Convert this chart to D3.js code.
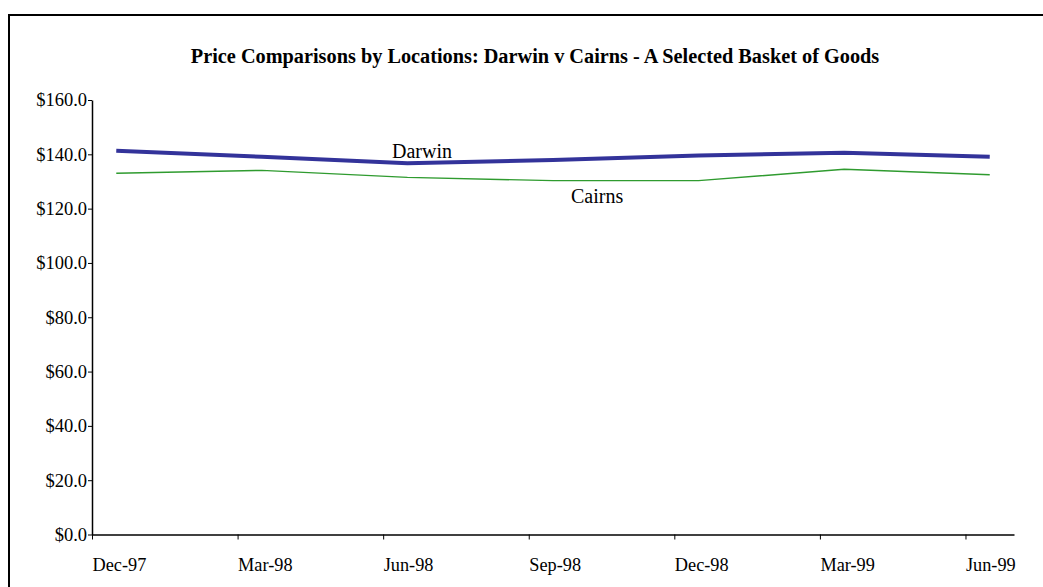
<!DOCTYPE html>
<html>
<head>
<meta charset="utf-8">
<script src="https://cdn.jsdelivr.net/npm/d3@7"></script>
<style>
  html, body { margin: 0; padding: 0; background: #fff; }
  svg { display: block; font-family: "Liberation Serif", "Times New Roman", serif; }
</style>
</head>
<body>
<svg id="chart" width="1043" height="587"></svg>
<script>
// Quarterly price of the selected basket of goods
const quarters = ["Dec-97", "Mar-98", "Jun-98", "Sep-98", "Dec-98", "Mar-99", "Jun-99"];
const darwin = [141.3, 139.1, 136.7, 137.9, 139.6, 140.6, 139.1];
const cairns = [133.0, 134.1, 131.5, 130.3, 130.3, 134.5, 132.5];
const yTicks = [0, 20, 40, 60, 80, 100, 120, 140, 160];

const svg = d3.select("#chart");

// outer frame
svg.append("path")
  .attr("d", "M9,600 L9,15 L1060,15")
  .attr("fill", "none").attr("stroke", "#000").attr("stroke-width", 2);

svg.append("text")
  .attr("x", 535).attr("y", 63)
  .attr("text-anchor", "middle")
  .attr("font-weight", "bold").attr("font-size", 20.3)
  .text("Price Comparisons by Locations: Darwin v Cairns - A Selected Basket of Goods");

// x runs in months from Dec-97; each quarter's value sits mid-month
const x = d3.scaleLinear().domain([0, 19]).range([92, 1014]);
const y = d3.scaleLinear().domain([0, 160]).range([534.5, 100]);

const xAxis = d3.axisBottom(x)
  .tickValues(quarters.map((d, i) => i * 3))
  .tickFormat((d) => quarters[d / 3])
  .tickSizeInner(5).tickSizeOuter(0);
const gx = svg.append("g").attr("transform", `translate(0,${y(0)})`).call(xAxis);
gx.select(".domain").attr("stroke", "#000").attr("stroke-width", 1.5);
gx.selectAll(".tick line").attr("stroke", "#000");
gx.selectAll(".tick text")
  .attr("text-anchor", "start").attr("x", 0).attr("dy", null).attr("y", 36)
  .attr("font-family", "Liberation Serif, serif").attr("font-size", 18.3).attr("fill", "#000");

const yAxis = d3.axisLeft(y)
  .tickValues(yTicks)
  .tickFormat((d) => "$" + d.toFixed(1))
  .tickSizeInner(4).tickSizeOuter(0);
const gy = svg.append("g").attr("transform", `translate(${x(0)},0)`).call(yAxis);
gy.select(".domain").attr("stroke", "#000").attr("stroke-width", 1.5);
gy.selectAll(".tick line").attr("stroke", "#000");
gy.selectAll(".tick text")
  .attr("x", -5)
  .attr("font-family", "Liberation Serif, serif").attr("font-size", 18.5).attr("fill", "#000");

const line = d3.line()
  .x((d, i) => x(i * 3 + 0.5))
  .y((d) => y(d));

svg.append("path").datum(cairns)
  .attr("d", line).attr("fill", "none")
  .attr("stroke", "#2f9b2f").attr("stroke-width", 1.4);

svg.append("path").datum(darwin)
  .attr("d", line).attr("fill", "none")
  .attr("stroke", "#33339a").attr("stroke-width", 4);

svg.append("text")
  .attr("x", 392).attr("y", 158)
  .attr("font-size", 20)
  .text("Darwin");
svg.append("text")
  .attr("x", 571).attr("y", 203)
  .attr("font-size", 20)
  .text("Cairns");
</script>
</body>
</html>
